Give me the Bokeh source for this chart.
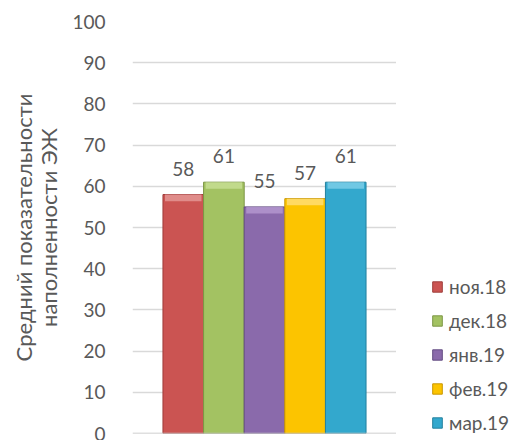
from bokeh.plotting import figure
from bokeh.layouts import row
from bokeh.models import FactorRange, ColumnDataSource, Span, FixedTicker
from bokeh.core.properties import value
from bokeh.embed import file_html
from bokeh.resources import INLINE

months = ["ноя.18", "дек.18", "янв.19", "фев.19", "мар.19"]
values = [58, 61, 55, 57, 61]
colors = ["#cb5452", "#a3c262", "#8a6aab", "#fcc400", "#33a8cd"]
dark = ["#9e3d3b", "#7c9645", "#634c82", "#c99600", "#23809e"]
light = ["#e59a98", "#c8e096", "#b59ad1", "#ffe07a", "#7fd0ea"]
yticks = [0, 10, 20, 30, 40, 50, 60, 70, 80, 90, 100]
ytitle = "Средний показательности\nнаполненности ЭЖ"

FONT = "Lato"
TXT = "#595959"

p = figure(width=396, height=440, output_backend="svg", toolbar_location=None,
           x_range=FactorRange(factors=months, range_padding=0.3),
           y_range=(0, 100),
           min_border_left=132, min_border_right=0, min_border_top=21, min_border_bottom=7)
p.outline_line_color = None
p.background_fill_color = "white"
p.border_fill_color = "white"

src = ColumnDataSource(dict(m=months, v=values, c=colors, d=dark, l=light,
                            lab=[str(v) for v in values],
                            vt=[v - 1.6 for v in values]))

p.xgrid.grid_line_color = None
p.ygrid.grid_line_color = "#d9d9d9"
p.ygrid.grid_line_width = 1.3
p.ygrid.ticker = FixedTicker(ticks=yticks)

bars = p.vbar(x="m", top="v", width=1.0, source=src, fill_color="c", line_color="d", line_width=1)
p.vbar(x="m", top="v", bottom="vt", width=0.9, source=src, fill_color="l", line_color=None, fill_alpha=0.8)

p.text(x="m", y="v", text="lab", source=src, text_align="center", text_baseline="alphabetic",
       y_offset=-26, text_font=value(FONT), text_font_size="19px", text_color=TXT)

p.add_layout(Span(location=0, dimension="width", line_color="#bfbfbf", line_width=1.5))

p.xaxis.visible = False
yax = p.yaxis[0]
yax.ticker = FixedTicker(ticks=yticks)
yax.axis_line_color = None
yax.major_tick_line_color = None
yax.minor_tick_line_color = None
yax.major_label_standoff = 21
yax.major_label_text_font = FONT
yax.major_label_text_font_size = "19px"
yax.major_label_text_color = TXT
yax.axis_label = ytitle
yax.axis_label_text_font = FONT
yax.axis_label_text_font_size = "22px"
yax.axis_label_text_font_style = "normal"
yax.axis_label_text_color = TXT
yax.axis_label_text_line_height = 0.95
yax.axis_label_standoff = 7

# legend panel
lg = figure(width=126, height=440, output_backend="svg", toolbar_location=None,
            x_range=(0, 1), y_range=(0, 1),
            min_border_left=0, min_border_right=0, min_border_top=0, min_border_bottom=0)
lg.outline_line_color = None
lg.axis.visible = False
lg.grid.visible = False
for i, m in enumerate(months):
    lg.vbar(x=[0.5], top=[values[i] / 100.0], width=0.1, fill_color=colors[i],
            line_color=dark[i], legend_label=m, visible=False)
leg = lg.legend[0]
leg.location = (35, -1)
leg.border_line_color = None
leg.background_fill_alpha = 0
leg.label_text_font = FONT
leg.label_text_font_size = "19px"
leg.label_text_color = TXT
leg.glyph_width = 12
leg.glyph_height = 13
leg.label_height = 20
leg.spacing = 11
leg.padding = 0
leg.margin = 0
leg.label_standoff = 6

layout = row(p, lg, spacing=0)
open("out.html", "w").write(file_html(layout, INLINE))
